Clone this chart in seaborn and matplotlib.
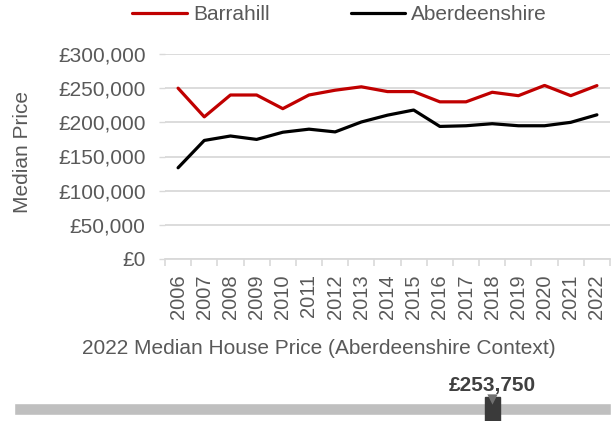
import matplotlib
matplotlib.use('Agg')
import matplotlib.pyplot as plt
from matplotlib.patches import Rectangle
from matplotlib.ticker import FuncFormatter, FixedLocator
import seaborn as sns
import pandas as pd
import numpy as np

years = [2006, 2007, 2008, 2009, 2010, 2011, 2012, 2013, 2014, 2015,
         2016, 2017, 2018, 2019, 2020, 2021, 2022]
barrahill = [250000, 208000, 240000, 240000, 220000, 240000, 247000, 252000, 245000,
             245000, 230000, 230000, 244000, 239000, 254000, 239000, 253750]
aberdeenshire = [133500, 173500, 180000, 175000, 185500, 190000, 186000, 200500, 210500,
                 218000, 194000, 195000, 198000, 195000, 195000, 200000, 211000]
series_names = ['Barrahill', 'Aberdeenshire']
series_colors = ['#c00000', '#000000']

# slider under the chart
slider_value = 253750
slider_max = 316600

grey = '#595959'
grid_col = '#d9d9d9'

sns.set_theme(style='white')
plt.rcParams['font.family'] = ['Liberation Sans', 'DejaVu Sans']

df = pd.DataFrame({
    'pos': list(range(len(years))) * 2,
    'price': barrahill + aberdeenshire,
    'area': [series_names[0]] * len(years) + [series_names[1]] * len(years),
})

fig = plt.figure(figsize=(6.11, 4.21), dpi=100)
ax = fig.add_axes([165 / 611, 1 - 259 / 421, 445 / 611, 205 / 421])

sns.lineplot(data=df, x='pos', y='price', hue='area', hue_order=series_names,
             palette=series_colors, linewidth=2.3, ax=ax, legend=False)

ax.set_xlim(-0.5, len(years) - 0.5)
ax.set_ylim(0, 300000)
ax.set_yticks(np.arange(0, 300001, 50000))
ax.yaxis.set_major_formatter(FuncFormatter(lambda v, p: '£{:,.0f}'.format(v)))
ax.set_xticks(range(len(years)))
ax.set_xticklabels([str(y) for y in years], rotation=90)
ax.xaxis.set_minor_locator(FixedLocator(np.arange(-0.5, len(years), 1)))
ax.grid(axis='y', color=grid_col, linewidth=1.3)
ax.set_axisbelow(True)
for s in ['top', 'right', 'left']:
    ax.spines[s].set_visible(False)
ax.spines['bottom'].set_color(grid_col)
ax.spines['bottom'].set_linewidth(1.3)

ax.tick_params(axis='y', colors=grid_col, labelcolor=grey, labelsize=15,
               length=4, width=1, pad=10, left=True)
ax.tick_params(axis='x', which='major', length=0, labelcolor=grey, labelsize=14.5, pad=11)
ax.tick_params(axis='x', which='minor', length=5, width=1.2, color=grid_col, bottom=True)

ax.set_xlabel('')
ax.set_ylabel('Median Price', color=grey, fontsize=15)
ax.yaxis.set_label_coords(-0.299, 0.52)

handles = [plt.Line2D([], [], color=c, linewidth=2.3) for c in series_colors]
fig.legend(handles, series_names, loc='center', bbox_to_anchor=(0.556, 1 - 15 / 421),
           ncol=2, frameon=False, fontsize=15, labelcolor=grey,
           handlelength=2.6, handletextpad=0.3, columnspacing=3.9)

fig.text(0.522, 1 - 348 / 421, '2022 Median House Price (Aberdeenshire Context)',
         ha='center', va='center', color=grey, fontsize=15)

# slider bar
ax2 = fig.add_axes([14 / 611, 1 - 415 / 421, 597 / 611, 12 / 421])
ax2.barh([0.5], [slider_max], height=1, left=0, color='#bfbfbf')
ax2.set_xlim(0, slider_max)
ax2.set_ylim(0, 1)
ax2.axis('off')
w = slider_max * 15 / 597
ax2.add_patch(Rectangle((slider_value - w / 2, -0.6), w, 2.1, color='#3a3a3a',
                        clip_on=False, zorder=3))
ax2.scatter([slider_value], [1.3], marker='v', s=55, color='#707070',
            clip_on=False, zorder=4, linewidths=0)
ax2.text(slider_value, 2.5, '£{:,.0f}'.format(slider_value), ha='center', va='center',
         fontsize=15, fontweight='bold', color='#404040')

fig.savefig('out.png', dpi=100)
